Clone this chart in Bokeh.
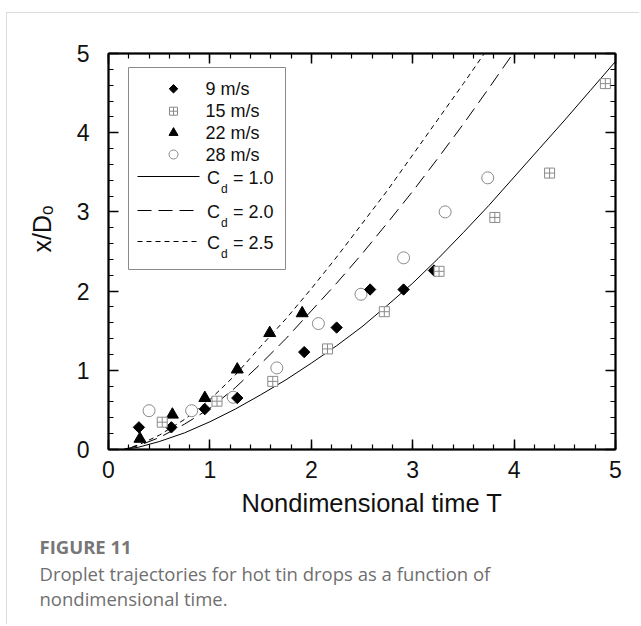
import numpy as np
from bokeh.plotting import figure
from bokeh.models import Range1d, LinearAxis, SingleIntervalTicker, Label, Title
from bokeh.embed import file_html
from bokeh.resources import INLINE

# ---------------- data ----------------
t_9 = [0.30, 0.62, 0.95, 1.27, 1.93, 2.25, 2.58, 2.91, 3.21]
x_9 = [0.28, 0.28, 0.51, 0.65, 1.23, 1.54, 2.02, 2.02, 2.26]

t_15 = [0.53, 1.07, 1.62, 2.16, 2.72, 3.26, 3.81, 4.35, 4.90]
x_15 = [0.345, 0.61, 0.86, 1.27, 1.74, 2.25, 2.93, 3.49, 4.62]

t_22 = [0.31, 0.63, 0.95, 1.27, 1.59, 1.91]
x_22 = [0.135, 0.44, 0.65, 1.01, 1.47, 1.72]

t_28 = [0.40, 0.82, 1.23, 1.66, 2.07, 2.49, 2.91, 3.32, 3.74]
x_28 = [0.49, 0.49, 0.66, 1.03, 1.59, 1.96, 2.42, 3.00, 3.43]

cd10_t = [0.15, 0.3, 0.5, 0.75, 1.0, 1.25, 1.5, 1.75, 2.0, 2.25, 2.5, 2.75, 3.0,
          3.25, 3.5, 3.75, 4.0, 4.25, 4.5, 4.75, 5.0]
cd10_x = [0.0, 0.03, 0.10, 0.21, 0.35, 0.51, 0.69, 0.88, 1.09, 1.31, 1.55, 1.82, 2.10,
          2.41, 2.74, 3.08, 3.44, 3.80, 4.16, 4.53, 4.90]

cd20_t = [0.15, 0.3, 0.5, 0.75, 1.0, 1.25, 1.5, 1.75, 2.0, 2.25, 2.5, 2.75, 3.0,
          3.25, 3.5, 3.75, 4.0]
cd20_x = [0.0, 0.05, 0.15, 0.32, 0.52, 0.78, 1.08, 1.40, 1.75, 2.10, 2.47, 2.86, 3.26,
          3.68, 4.11, 4.56, 5.02]

cd25_t = [0.15, 0.3, 0.5, 0.75, 1.0, 1.25, 1.5, 1.75, 2.0, 2.25, 2.5, 2.75, 3.0,
          3.25, 3.5, 3.75]
cd25_x = [0.0, 0.06, 0.18, 0.38, 0.63, 0.94, 1.30, 1.65, 2.03, 2.43, 2.85, 3.27, 3.72,
          4.17, 4.62, 5.08]

series_labels = ["9 m/s", "15 m/s", "22 m/s", "28 m/s"]
cd_labels = ["1.0", "2.0", "2.5"]
x_range_vals = (0, 5)
y_range_vals = (0, 5)

# ---------------- layout helpers (page pixels) ----------------
OX, OY = 7, 13                       # canvas origin on the page (after css margin + border)
W, H = 633, 612
FL, FT, FW, FH = 108, 53, 507, 396   # frame in page pixels
def dx(px):
    return (px - FL) / FW * 5.0
def dy(py):
    return (FT + FH - py) / FH * 5.0

FONT = "Liberation Sans"
GRAY = "#8a8a8a"
INK = "#111111"

p = figure(width=W, height=H, output_backend="svg", toolbar_location=None,
           x_range=Range1d(*x_range_vals), y_range=Range1d(*y_range_vals),
           min_border_left=FL - OX, min_border_right=W - (FL - OX) - FW,
           min_border_top=FT - OY, min_border_bottom=H - (FT - OY) - FH)
p.margin = (12, 0, 0, 6)
p.styles = {"border-top": "1px solid #dcdcdc", "border-left": "1px solid #dcdcdc"}
p.xgrid.visible = False
p.ygrid.visible = False
p.outline_line_color = "black"
p.outline_line_width = 1.5
p.background_fill_color = "white"
p.border_fill_color = "white"

p.add_layout(LinearAxis(), "above")
p.add_layout(LinearAxis(), "right")
for ax in p.axis:
    ax.ticker = SingleIntervalTicker(interval=1, num_minor_ticks=5)
    ax.axis_line_width = 2
    ax.axis_line_color = "black"
    ax.major_tick_in = 10
    ax.major_tick_out = 0
    ax.minor_tick_in = 5
    ax.minor_tick_out = 0
    ax.major_tick_line_width = 1.5
    ax.minor_tick_line_width = 1.2
    ax.major_label_text_font = FONT
    ax.major_label_text_font_size = "23px"
    ax.major_label_text_color = INK
for ax in p.above + p.right:
    ax.major_label_text_font_size = "1px"
    ax.major_label_text_color = None
    ax.major_label_standoff = 0
p.below[0].major_label_standoff = 11
p.left[0].major_label_standoff = 19

# ---------------- curves ----------------
p.line(cd10_t, cd10_x, line_color="black", line_width=1)
p.line(cd20_t, cd20_x, line_color="black", line_width=1, line_dash="14 7")
p.line(cd25_t, cd25_x, line_color="black", line_width=1, line_dash="5 4")

# ---------------- points ----------------
p.scatter(t_28, x_28, marker="circle", size=12, line_color=GRAY, fill_color="white", line_width=1)
p.scatter(t_9, x_9, marker="square", angle=np.pi / 4, size=8, color="black")
p.scatter(t_22, x_22, marker="triangle", size=12, color="black")
p.scatter(t_15, x_15, marker="square_cross", size=10, line_color=GRAY, fill_color="white", line_width=1)

# ---------------- legend (drawn by hand) ----------------
p.quad(left=[dx(128)], right=[dx(285)], top=[dy(67)], bottom=[dy(269)],
       fill_color="white", line_color=GRAY, line_width=1)
mx = dx(173)
row_y = [88.3, 110.7, 132.3, 154.0]
p.scatter([mx], [dy(row_y[0])], marker="square", angle=np.pi / 4, size=6, color="black")
p.scatter([mx], [dy(row_y[1])], marker="square_cross", size=8, line_color=GRAY, fill_color="white")
p.scatter([mx], [dy(row_y[2])], marker="triangle", size=9, color="black")
p.scatter([mx], [dy(row_y[3])], marker="circle", size=9, line_color=GRAY, fill_color="white")
for lab, yy in zip(series_labels, row_y):
    p.add_layout(Label(x=dx(205), y=dy(yy), text=lab, text_font=FONT, text_font_size="18px",
                       text_align="left", text_baseline="middle", text_color=INK))

cd_rows = [176.0, 210.0, 241.0]
dashes = ["solid", "14 7", "5 4"]
for lab, yy, dsh in zip(cd_labels, cd_rows, dashes):
    p.line([dx(137), dx(199)], [dy(yy), dy(yy)], line_color="black", line_width=1, line_dash=dsh)
    p.add_layout(Label(x=dx(206.5), y=dy(yy + 1.5), text="C", text_font=FONT, text_font_size="18px",
                       text_align="left", text_baseline="middle", text_color=INK))
    p.add_layout(Label(x=dx(220.5), y=dy(yy + 12), text="d", text_font=FONT, text_font_size="12px",
                       text_align="left", text_baseline="middle", text_color=INK))
    p.add_layout(Label(x=dx(232.5), y=dy(yy + 1.5), text="= " + lab, text_font=FONT, text_font_size="18px",
                       text_align="left", text_baseline="middle", text_color=INK))

# ---------------- axis titles (as side titles, so they can sit outside the frame) ----------------
t_y = Title(text="x/D\u2092", align="left", offset=FT + FH - 252, standoff=35, text_font=FONT,
            text_font_size="25px", text_font_style="normal", text_color=INK)
p.add_layout(t_y, "left")

t_x = Title(text="Nondimensional time T", align="left", offset=241 - FL, standoff=12, text_font=FONT,
            text_font_size="25.5px", text_font_style="normal", text_color=INK)
p.add_layout(t_x, "below")

# ---------------- caption ----------------
cap_off = 39 - FL
t_fig = Title(text="FIGURE 11", align="left", offset=cap_off, standoff=18, text_font="Open Sans",
              text_font_size="18.5px", text_font_style="bold", text_color="#777777")
p.add_layout(t_fig, "below")
t_cap = Title(text="Droplet trajectories for hot tin drops as a function of\nnondimensional time.",
              align="left", offset=cap_off, standoff=-18, text_font="Open Sans",
              text_font_size="18.5px", text_line_height=1.0, text_font_style="normal",
              text_color="#6f6f6f")
p.add_layout(t_cap, "below")

open("out.html", "w").write(file_html(p, INLINE))
